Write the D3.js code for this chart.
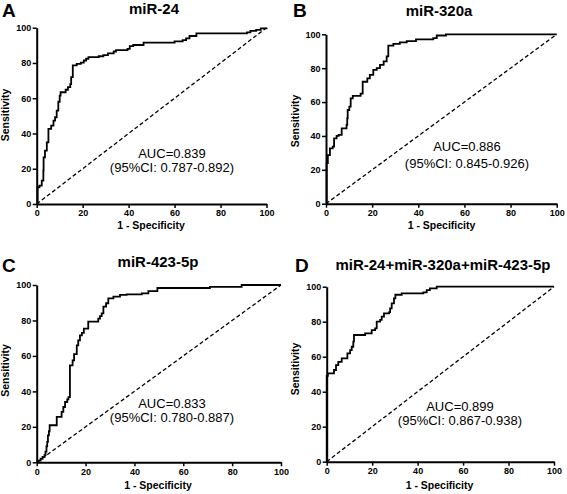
<!DOCTYPE html>
<html><head><meta charset="utf-8">
<script src="https://cdn.jsdelivr.net/npm/d3@7"></script>
<style>
body{margin:0;background:#fff}
svg{display:block}
text{font-family:"Liberation Sans",Arial,Helvetica,sans-serif;fill:#000}
</style>
</head><body>
<svg id="chart" width="567" height="494"></svg>
<script>
// ---------------- data ----------------
const panelLetters = ["A", "B", "C", "D"];
const panelTitles = ["miR-24", "miR-320a", "miR-423-5p", "miR-24+miR-320a+miR-423-5p"];
const aucLabels = ["AUC=0.839", "AUC=0.886", "AUC=0.833", "AUC=0.899"];
const ciLabels = ["(95%CI: 0.787-0.892)", "(95%CI: 0.845-0.926)", "(95%CI: 0.780-0.887)", "(95%CI: 0.867-0.938)"];
const xTicks = [0, 20, 40, 60, 80, 100];
const yTicks = [0, 20, 40, 60, 80, 100];
const xAxisTitle = "1 - Specificity";
const yAxisTitle = "Sensitivity";

// ROC staircase vertices (1-specificity %, sensitivity %)
const fprA = [0, 0.4, 1.2, 2.2, 2.9, 3.0, 3.6, 4.4, 5.1, 6.3, 7.3, 8.0, 8.7, 9.4, 10.0, 10.4, 12.6, 13.6, 14.6, 15.0, 15.7, 17.4, 19.2, 20.5, 21.5, 22.5, 27.0, 29.0, 31.0, 33.5, 34.5, 39.5, 40.5, 42.0, 46.5, 60.0, 63.5, 65.0, 66.5, 69.5, 91.5, 93.0, 95.5, 97.5, 100];
const tprA = [0, 9.5, 10.4, 13.3, 19.0, 26.5, 30.3, 35.0, 42.6, 44.5, 47.3, 49.2, 53.0, 58.0, 61.5, 63.4, 64.8, 66.3, 68.0, 72.0, 78.6, 79.5, 80.2, 81.4, 82.4, 83.3, 83.8, 84.5, 85.4, 86.5, 87.3, 88.0, 89.6, 90.2, 91.5, 92.2, 93.0, 94.0, 95.3, 96.8, 97.3, 98.2, 98.8, 99.6, 100];

const fprB = [0, 0.3, 0.8, 1.7, 2.9, 3.5, 4.6, 5.5, 6.8, 8.9, 9.2, 9.4, 10.1, 10.7, 11.6, 15.0, 15.9, 17.9, 19.0, 20.5, 22.0, 23.4, 25.0, 26.3, 27.0, 29.2, 32.0, 35.0, 39.0, 46.5, 48.0, 52.0, 100];
const tprB = [0, 24.0, 28.7, 32.7, 33.7, 38.6, 40.0, 40.6, 44.5, 46.5, 50.4, 55.3, 57.3, 62.2, 63.6, 65.0, 72.0, 74.0, 76.0, 79.0, 80.0, 82.0, 84.0, 87.0, 93.3, 94.3, 95.2, 96.0, 97.0, 97.8, 99.3, 100, 100];

const fprC = [0, 0.8, 1.6, 2.4, 3.2, 3.6, 4.0, 4.3, 4.6, 5.0, 5.3, 8.2, 10.2, 10.9, 11.6, 12.5, 13.0, 13.6, 14.7, 15.3, 16.4, 17.0, 17.7, 18.5, 19.3, 21.1, 25.2, 25.9, 26.6, 27.3, 28.4, 29.3, 31.4, 34.1, 36.8, 43.0, 45.7, 49.4, 70.9, 83.9, 100];
const tprC = [0, 1.0, 2.0, 3.0, 4.0, 6.0, 9.0, 11.5, 15.2, 17.5, 20.9, 25.6, 28.4, 31.2, 34.0, 35.5, 36.8, 54.7, 57.5, 61.0, 66.0, 68.8, 71.6, 73.0, 75.4, 79.3, 81.0, 82.4, 84.0, 87.8, 89.7, 92.5, 93.4, 94.4, 94.7, 95.3, 96.6, 98.3, 98.9, 100, 100];

const fprD = [0, 0, 0.5, 3.2, 4.1, 5.1, 6.6, 9.1, 10.3, 11.0, 11.7, 12.0, 16.9, 19.8, 21.3, 22.0, 23.5, 24.2, 25.2, 27.5, 27.9, 28.6, 29.6, 30.2, 33.0, 42.5, 44.0, 45.4, 48.4, 100];
const tprD = [0, 49.0, 50.5, 52.4, 55.2, 57.0, 59.0, 61.9, 63.8, 65.7, 68.6, 72.4, 73.3, 75.2, 76.2, 80.0, 81.0, 82.9, 84.8, 85.5, 87.6, 90.5, 93.3, 95.4, 96.2, 96.8, 98.1, 99.1, 100, 100];

const fprSets = [fprA, fprB, fprC, fprD];
const tprSets = [tprA, tprB, tprC, tprD];

// ---------------- layout (pixels) ----------------
const layout = [
  {x0: 36.7, x1: 266.5, y0: 204.0, y1: 27.7, letter: [2, 16.7], title: [154, 13.5], ylab: [9, 115], xlab: [151, 229], ann: [172, 157.7, 171.5]},
  {x0: 326.0, x1: 556.7, y0: 203.7, y1: 34.3, letter: [293, 17.3], title: [439, 16], ylab: [298.5, 121], xlab: [441.5, 229], ann: [467, 150.7, 167.7]},
  {x0: 36.7, x1: 281.0, y0: 462.3, y1: 285.0, letter: [2, 272], title: [158, 266.5], ylab: [8.5, 370.5], xlab: [158, 489], ann: [172, 408.3, 422.3]},
  {x0: 326.7, x1: 554.0, y0: 461.7, y1: 286.7, letter: [295, 272], title: [443, 269.5], ylab: [298.5, 369], xlab: [439.5, 488.5], ann: [460, 410.7, 425]}
];

const svg = d3.select("#chart");

layout.forEach((L, i) => {
  const x = d3.scaleLinear().domain([0, 100]).range([L.x0, L.x1]);
  const y = d3.scaleLinear().domain([0, 100]).range([L.y0, L.y1]);
  const g = svg.append("g");

  // reference diagonal
  g.append("path")
    .attr("d", d3.line().x(d => x(d)).y(d => y(d))([0, 100]))
    .attr("fill", "none").attr("stroke", "#000")
    .attr("stroke-width", 1.3).attr("stroke-dasharray", "4,2.5");

  // ROC curve
  const pts = fprSets[i].map((v, k) => [v, tprSets[i][k]]);
  g.append("path")
    .attr("d", d3.line().x(d => x(d[0])).y(d => y(d[1])).curve(d3.curveStepAfter)(pts))
    .attr("fill", "none").attr("stroke", "#000")
    .attr("stroke-width", 1.8).attr("stroke-linejoin", "miter");

  // axes
  const xa = g.append("g").attr("transform", `translate(0,${L.y0})`)
    .call(d3.axisBottom(x).tickValues(xTicks).tickSize(4).tickSizeOuter(0).tickPadding(2));
  const ya = g.append("g").attr("transform", `translate(${L.x0},0)`)
    .call(d3.axisLeft(y).tickValues(yTicks).tickSize(4).tickSizeOuter(0).tickPadding(1.5));
  [xa, ya].forEach(a => {
    a.select(".domain").attr("stroke", "#000").attr("stroke-width", 2);
    a.selectAll(".tick line").attr("stroke", "#000").attr("stroke-width", 1.5);
    a.selectAll(".tick text").attr("font-family", "Liberation Sans, Arial, sans-serif")
      .attr("font-size", 9).attr("font-weight", "bold").attr("fill", "#000");
  });

  // panel letter
  g.append("text").attr("x", L.letter[0]).attr("y", L.letter[1])
    .attr("font-size", 19).attr("font-weight", "bold").text(panelLetters[i]);
  // title
  g.append("text").attr("x", L.title[0]).attr("y", L.title[1])
    .attr("text-anchor", "middle").attr("font-size", 15).attr("font-weight", "bold").text(panelTitles[i]);
  // axis titles
  g.append("text").attr("x", L.xlab[0]).attr("y", L.xlab[1])
    .attr("text-anchor", "middle").attr("font-size", 10.5).attr("font-weight", "bold").text(xAxisTitle);
  g.append("text").attr("transform", `translate(${L.ylab[0]},${L.ylab[1]}) rotate(-90)`)
    .attr("text-anchor", "middle").attr("font-size", 10.5).attr("font-weight", "bold").text(yAxisTitle);
  // AUC annotation
  g.append("text").attr("x", L.ann[0]).attr("y", L.ann[1])
    .attr("text-anchor", "middle").attr("font-size", 13).text(aucLabels[i]);
  g.append("text").attr("x", L.ann[0]).attr("y", L.ann[2])
    .attr("text-anchor", "middle").attr("font-size", 13).text(ciLabels[i]);
});
</script>
</body></html>
